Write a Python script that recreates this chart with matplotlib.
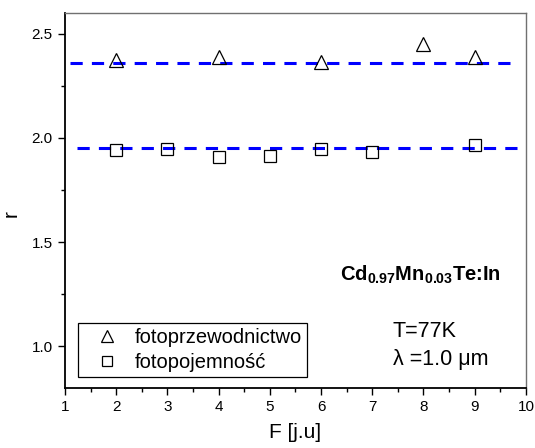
## r vs F for Cd(0.97)Mn(0.03)Te:In, photoconductivity and photocapacitance ##

import matplotlib.pyplot as plt
import matplotlib.ticker as tkr

plt.rcParams['font.family'] = ['Liberation Sans', 'DejaVu Sans']
plt.rcParams['mathtext.fontset'] = 'custom'
plt.rcParams['mathtext.rm'] = 'Liberation Sans'
plt.rcParams['mathtext.bf'] = 'Liberation Sans:bold'

## DATA ##
F_cond = [2, 4, 6, 8, 9]
r_cond = [2.375, 2.39, 2.365, 2.45, 2.39]
F_cap = [2, 3, 4, 5, 6, 7, 9]
r_cap = [1.94, 1.945, 1.91, 1.915, 1.945, 1.935, 1.965]

mean_cond = 2.361
mean_cap = 1.952
cond_span = [1.1, 9.7]
cap_span = [1.23, 9.83]

label_cond = "fotoprzewodnictwo"
label_cap = "fotopojemność"

## PLOT ##
fig = plt.figure(figsize=(5.35, 4.48), dpi=100)
ax = fig.add_axes([0.1215, 0.134, 0.8615, 0.837])

ax.plot(cond_span, [mean_cond, mean_cond], color='#0000ff', linestyle=(0, (4, 3)), linewidth=2.2, zorder=1)
ax.plot(cap_span, [mean_cap, mean_cap], color='#0000ff', linestyle=(0, (4, 3)), linewidth=2.2, zorder=1)

ax.plot(F_cond, r_cond, linestyle='none', marker='^', markersize=9.5, markerfacecolor='none',
        markeredgecolor='black', markeredgewidth=0.9, label=label_cond, zorder=3)
ax.plot(F_cap, r_cap, linestyle='none', marker='s', markersize=8.5, markerfacecolor='none',
        markeredgecolor='black', markeredgewidth=0.9, label=label_cap, zorder=3)

ax.set_xlim(1, 10)
ax.set_ylim(0.8, 2.6)
ax.xaxis.set_major_locator(tkr.MultipleLocator(1))
ax.xaxis.set_minor_locator(tkr.MultipleLocator(0.5))
ax.yaxis.set_major_locator(tkr.FixedLocator([1.0, 1.5, 2.0, 2.5]))
ax.yaxis.set_minor_locator(tkr.MultipleLocator(0.25))
ax.yaxis.set_major_formatter(tkr.FormatStrFormatter('%.1f'))

ax.tick_params(which='both', direction='out', top=False, right=False, labelsize=11, width=1)
ax.tick_params(which='major', length=5, pad=4)
ax.tick_params(which='minor', length=3)
for s in ['left', 'bottom']:
    ax.spines[s].set_linewidth(1.3)
for s in ['top', 'right']:
    ax.spines[s].set_linewidth(1.0)
    ax.spines[s].set_color('#707070')

ax.set_xlabel("F [j.u]", fontsize=15, labelpad=6)
ax.set_ylabel("r", fontsize=15)
ax.yaxis.set_label_coords(-0.097, 0.465)

leg = ax.legend(loc='lower left', bbox_to_anchor=(0.028, 0.028), fontsize=14.5, frameon=True,
                fancybox=False, edgecolor='black', framealpha=1, handletextpad=0.15,
                borderpad=0.25, labelspacing=0.3, handlelength=2.4, borderaxespad=0,
                markerscale=0.85)
leg.get_frame().set_linewidth(0.9)

ax.text(7.95, 1.345, r'Cd$_{\mathbf{0.97}}$Mn$_{\mathbf{0.03}}$Te:In', fontsize=14.5,
        fontweight='bold', ha='center', va='center')
ax.text(7.4, 1.071, "T=77K", fontsize=15.5, va='center')
ax.text(7.4, 0.937, "λ =1.0 μm", fontsize=15.5, va='center')

plt.savefig('out.png', dpi=100)
